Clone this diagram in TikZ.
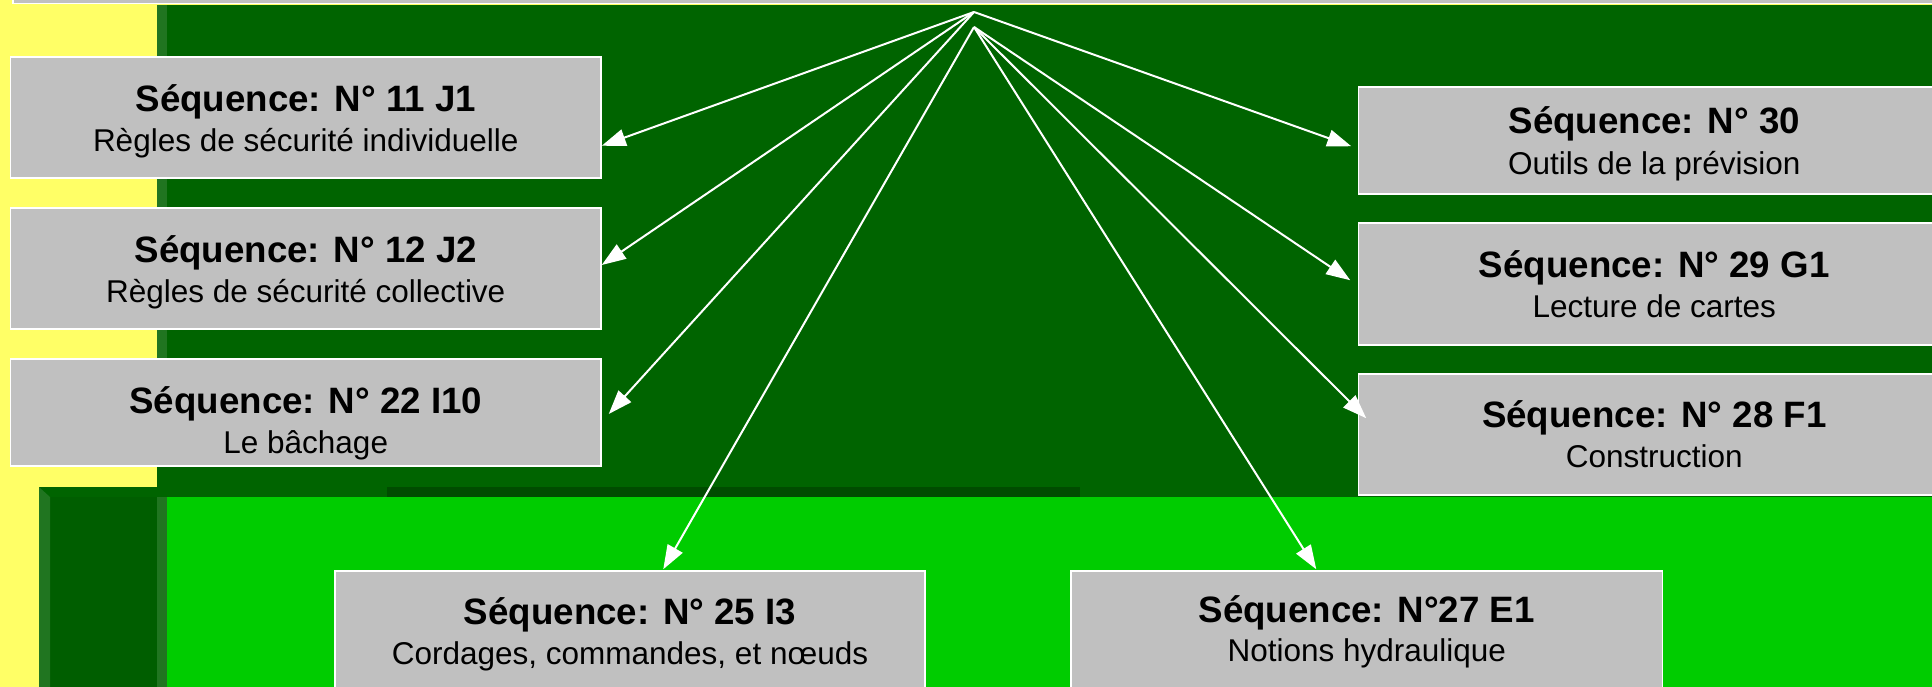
\documentclass[tikz,border=0pt]{standalone}
\usepackage{fontspec}
\setmainfont{Liberation Sans}
\usetikzlibrary{arrows.meta,calc}
\definecolor{yel}{HTML}{FFFF66}
\definecolor{dkgreen}{HTML}{006400}
\definecolor{bevelgreen}{HTML}{207520}
\definecolor{panelgreen}{HTML}{005E00}
\definecolor{bandgreen}{HTML}{004C00}
\definecolor{brightgreen}{HTML}{00CC00}
\definecolor{boxgray}{HTML}{C0C0C0}
\begin{document}
\begin{tikzpicture}[x=1pt,y=-1pt,
  sbox/.style={rectangle, draw=white, fill=boxgray, line width=1.5pt, inner sep=0pt},
  tbold/.style={anchor=base, inner sep=0pt, font=\fontsize{36.7}{40}\selectfont\bfseries},
  tnorm/.style={anchor=base, inner sep=0pt, font=\fontsize{31.5}{36}\selectfont},
  arr/.style={draw=white, line width=2pt, -{Triangle[length=24pt,width=17pt]}}]
\useasboundingbox (0,0) rectangle (1932,687);
\clip (0,0) rectangle (1932,687);
% background
\fill[yel] (0,0) rectangle (1932,687);
\fill[dkgreen] (157,5) rectangle (1932,497);
\fill[bevelgreen] (157,5) rectangle (167,466);
\fill[panelgreen] (39,487) rectangle (157,687);
\fill[dkgreen] (39,487) -- (157,487) -- (157,497) -- (50,497) -- cycle;
\fill[bevelgreen] (39,487) -- (50,497) -- (50,687) -- (39,687) -- cycle;
\fill[bevelgreen] (157,497) rectangle (167,687);
\fill[brightgreen] (167,497) rectangle (1932,687);
\fill[bandgreen] (387,487) rectangle (1080,497);
% top strip
\draw[white, line width=1.5pt, fill=boxgray] (13,-20) rectangle (1960,3.5);
% boxes
\node[sbox, minimum width=590.5pt, minimum height=121pt] (j1) at (305.75,117.5) {};
\node[sbox, minimum width=590.5pt, minimum height=121pt] (j2) at (305.75,268.5) {};
\node[sbox, minimum width=590.5pt, minimum height=107pt] (i10) at (305.75,412.5) {};
\node[sbox, minimum width=591.5pt, minimum height=107pt] (s30) at (1654.25,140.5) {};
\node[sbox, minimum width=591.5pt, minimum height=122pt] (g1) at (1654.25,284) {};
\node[sbox, minimum width=591.5pt, minimum height=121pt] (f1) at (1654.25,434.5) {};
\node[sbox, minimum width=590pt, minimum height=149pt] (i3) at (630,645.5) {};
\node[sbox, minimum width=591.5pt, minimum height=149pt] (e1) at (1366.75,645.5) {};
% texts
\node[tbold] (j1a) at ($(j1.north)+(0,55)$) {Séquence: N° 11 J1};
\node[tnorm] (j1b) at ($(j1.north)+(0,95)$) {Règles de sécurité individuelle};
\node[tbold] (j2a) at ($(j2.north)+(0,55)$) {Séquence: N° 12 J2};
\node[tnorm] (j2b) at ($(j2.north)+(0,95)$) {Règles de sécurité collective};
\node[tbold] (i10a) at ($(i10.north)+(0,55)$) {Séquence: N° 22 I10};
\node[tnorm] (i10b) at ($(i10.north)+(0,95)$) {Le bâchage};
\node[tbold] (s30a) at ($(s30.north)+(0,47)$) {Séquence: N° 30};
\node[tnorm] (s30b) at ($(s30.north)+(0,88)$) {Outils de la prévision};
\node[tbold] (g1a) at ($(g1.north)+(0,55)$) {Séquence: N° 29 G1};
\node[tnorm] (g1b) at ($(g1.north)+(0,95)$) {Lecture de cartes};
\node[tbold] (f1a) at ($(f1.north)+(0,54)$) {Séquence: N° 28 F1};
\node[tnorm] (f1b) at ($(f1.north)+(0,94)$) {Construction};
\node[tbold] (i3a) at ($(i3.north)+(0,54)$) {Séquence: N° 25 I3};
\node[tnorm] (i3b) at ($(i3.north)+(0,94)$) {Cordages, commandes, et nœuds};
\node[tbold] (e1a) at ($(e1.north)+(0,52)$) {Séquence: N°27 E1};
\node[tnorm] (e1b) at ($(e1.north)+(0,91)$) {Notions hydraulique};
% apexes
\coordinate (apA) at (974,12);
\coordinate (apB) at (974,27);
% connectors
\draw[arr] (apA) -- ($(j1.south east)+(0,-33)$);
\draw[arr] (apA) -- ($(j2.east)+(0,-3.5)$);
\draw[arr] (apA) -- ($(i10.east)+(7,1.5)$);
\draw[arr] (apA) -- ($(s30.north west)+(-6.5,60)$);
\draw[arr] (apB) -- ($(i3.north west)+(329,-1)$);
\draw[arr] (apB) -- ($(e1.north west)+(246,-1)$);
\draw[arr] (apB) -- ($(g1.north west)+(-7.5,58)$);
\draw[arr] (apB) -- ($(f1.north west)+(8.5,45)$);
\end{tikzpicture}
\end{document}
